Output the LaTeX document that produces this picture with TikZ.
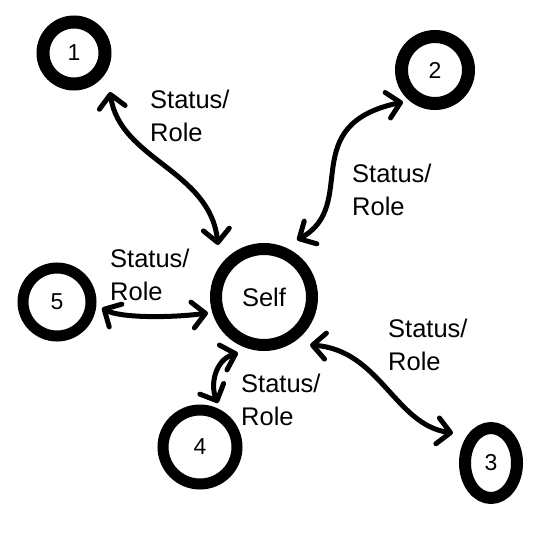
\documentclass[tikz,border=0pt]{standalone}
\usepackage{fontspec}
\setmainfont{Liberation Sans}
\usetikzlibrary{arrows.meta,shapes.geometric,calc}
\begin{document}
\begin{tikzpicture}[x=1pt,y=-1pt,
 ring/.style={circle,draw,line width=12pt,inner sep=0pt,font=\fontsize{23}{23}\selectfont},
 barb/.tip={Straight Barb[length=13pt,width=26pt,line join=round,line cap=round]},
 arr/.style={line width=5pt,line cap=round,barb-barb},
 lbl/.style={align=left,inner sep=0pt,anchor=base west,font=\fontsize{25.5}{32.5}\selectfont}]
\useasboundingbox[fill=white] (0,0) rectangle (540,538);
\node[ring,line width=13pt,minimum size=62pt] (n1) at (74,53) {1};
\node[ring,line width=13pt,minimum size=67pt] (n2) at (435,70) {2};
\node[ring,ellipse,minimum width=52pt,minimum height=70pt] (n3) at (491,463) {\raisebox{-7pt}{3}};
\node[ring,line width=11pt,minimum size=74pt] (n4) at (200,447) {4};
\node[ring,line width=11pt,minimum size=68pt] (n5) at (57,302) {5};
\node[ring,minimum size=96pt,font=\fontsize{25.5}{25.5}\selectfont] (self) at (264,297) {Self};

\draw[arr] ($(n1)+(36,39)$) .. controls (120,160) and (210,170) .. ($(self)+(-46,-52)$);
\draw[arr] ($(self)+(33,-57)$) .. controls (360,205) and (295,125) .. ($(n2)+(-32,32)$);
\draw[arr] ($(n5)+(45,6)$) .. controls (120,318) and (170,318) .. ($(self)+(-56,16)$);
\draw[arr] ($(self)+(-26,56)$) .. controls (215,360) and (210,385) .. ($(n4)+(18,-44)$);
\draw[arr] ($(self)+(46,48)$) .. controls (380,350) and (395,425) .. ($(n3)+(-38,-30)$);

\node[lbl] (l1) at (150,141) {Status/\\Role};
\node[lbl] (l2) at (352,215) {Status/\\Role};
\node[lbl] (l3) at (388,370) {Status/\\Role};
\node[lbl] (l4) at (241,425) {Status/\\Role};
\node[lbl] (l5) at (110,300) {Status/\\Role};
\end{tikzpicture}
\end{document}
